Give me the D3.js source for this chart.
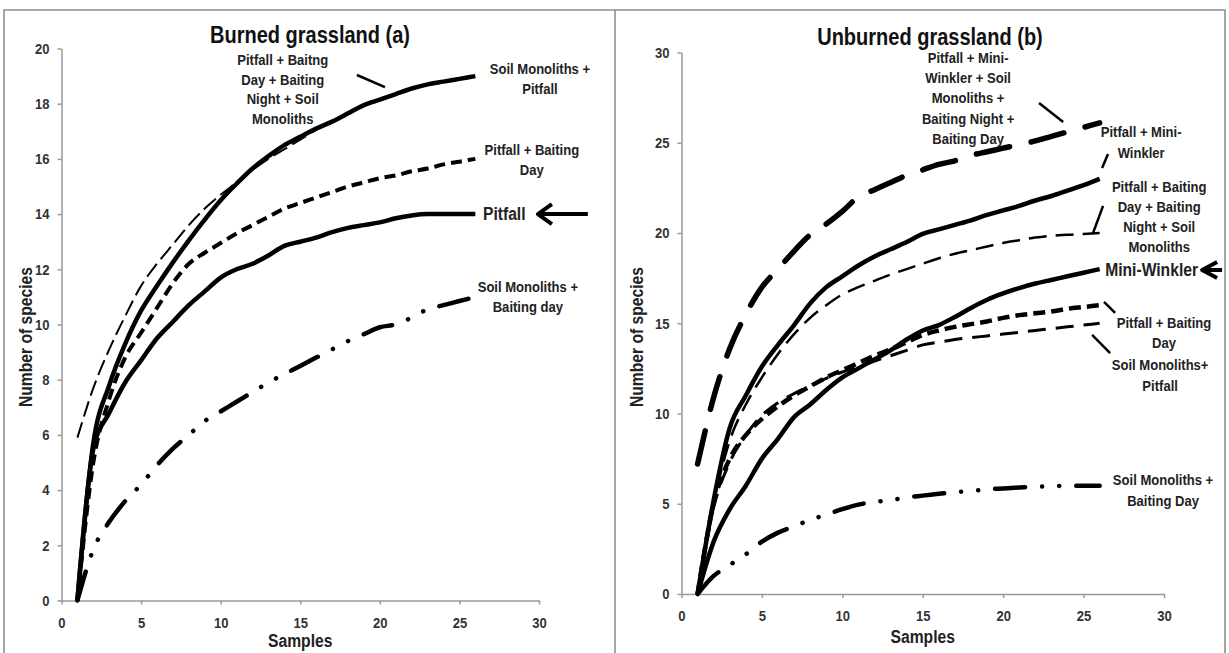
<!DOCTYPE html>
<html>
<head>
<meta charset="utf-8">
<script src="https://cdn.jsdelivr.net/npm/d3@7"></script>
<style>
body { margin: 0; background: #fff; }
text { font-family: "Liberation Sans", Arial, sans-serif; font-weight: bold; }
</style>
</head>
<body>
<svg id="chart" width="1229" height="653"></svg>
<script>

var samples = [1, 2, 3, 4, 5, 6, 7, 8, 9, 10, 11, 12, 13, 14, 15, 16, 17, 18, 19, 20, 21, 22, 23, 24, 25, 26]

var xTicks = [0, 5, 10, 15, 20, 25, 30]
var yTicksA = [0, 2, 4, 6, 8, 10, 12, 14, 16, 18, 20]
var yTicksB = [0, 5, 10, 15, 20, 25, 30]

// burned grassland (a)
var aSoilPitfall = [0, 5.7, 7.8, 9.3, 10.5, 11.4, 12.25, 13.05, 13.8, 14.5, 15.1, 15.65, 16.1, 16.5, 16.8, 17.1, 17.35, 17.65, 17.95, 18.15, 18.35, 18.55, 18.7, 18.8, 18.9, 19]
var aAllFour = [5.9, 7.7, 9.1, 10.3, 11.4, 12.2, 12.9, 13.6, 14.2, 14.7, 15.15, 15.6, 16, 16.35, 16.7, 17.05, 17.35, 17.65, 17.95, 18.15, 18.35, 18.55, 18.7, 18.8, 18.9, 19]
var aPitfallDay = [0, 5, 7.3, 8.8, 9.7, 10.6, 11.5, 12.2, 12.6, 12.95, 13.3, 13.6, 13.9, 14.2, 14.4, 14.6, 14.8, 15, 15.15, 15.3, 15.4, 15.55, 15.65, 15.8, 15.9, 16]
var aPitfall = [0, 5.5, 6.8, 7.9, 8.7, 9.5, 10.1, 10.7, 11.2, 11.7, 12, 12.2, 12.5, 12.85, 13, 13.15, 13.35, 13.5, 13.6, 13.7, 13.85, 13.95, 14, 14, 14, 14]
var aSoilDay = [0, 1.85, 2.85, 3.6, 4.2, 4.9, 5.5, 6, 6.5, 6.85, 7.2, 7.55, 7.9, 8.2, 8.5, 8.8, 9.1, 9.4, 9.65, 9.9, 10, 10.25, 10.55, 10.7, 10.85, 11]

// unburned grassland (b)
var bAllFive = [7.2, 10.9, 13.6, 15.5, 17, 18, 19, 19.9, 20.5, 21.2, 22, 22.4, 22.8, 23.2, 23.5, 23.8, 24, 24.3, 24.5, 24.7, 24.9, 25.1, 25.35, 25.6, 25.85, 26.1]
var bPitfallWinkler = [0, 5.2, 9.2, 11, 12.6, 13.8, 14.9, 16.1, 17, 17.6, 18.2, 18.7, 19.1, 19.5, 19.95, 20.2, 20.45, 20.7, 21, 21.25, 21.5, 21.8, 22.05, 22.35, 22.65, 23]
var bAllFour = [0, 5, 8.5, 10.5, 12, 13.3, 14.4, 15.3, 16, 16.6, 17, 17.35, 17.7, 18, 18.3, 18.6, 18.85, 19.05, 19.25, 19.45, 19.6, 19.75, 19.85, 19.9, 19.95, 20]
var bWinkler = [0, 2.9, 4.7, 6, 7.5, 8.6, 9.8, 10.5, 11.3, 12, 12.5, 13, 13.5, 14.1, 14.6, 14.9, 15.35, 15.85, 16.3, 16.65, 16.95, 17.2, 17.4, 17.6, 17.8, 18]
var bPitfallDay = [0, 5, 7.5, 8.8, 9.7, 10.4, 11, 11.5, 12, 12.4, 12.8, 13.2, 13.55, 13.95, 14.35, 14.6, 14.8, 14.95, 15.1, 15.3, 15.45, 15.55, 15.65, 15.8, 15.9, 16]
var bSoilPitfall = [0, 4.8, 7.3, 8.8, 9.9, 10.6, 11.1, 11.55, 11.95, 12.3, 12.6, 12.9, 13.2, 13.5, 13.8, 13.95, 14.1, 14.2, 14.3, 14.4, 14.5, 14.6, 14.7, 14.8, 14.9, 15]
var bSoilDay = [0, 1, 1.6, 2.2, 2.9, 3.4, 3.75, 4.1, 4.4, 4.7, 4.95, 5.1, 5.2, 5.35, 5.45, 5.55, 5.65, 5.7, 5.8, 5.85, 5.9, 5.95, 5.97, 6, 6, 6]

var svg = d3.select('#chart')

var frame = svg.append("g")
                .attr("fill", "none")
                .attr("stroke", "#8f8f8f")
                .attr("stroke-width", 1.6)

frame.append("path").attr("d", "M4,660 V10 H1225 V660")
frame.append("path").attr("d", "M615,10 V660")

var solid = null
var dashDot = "30,17,0.1,17,0.1,17"
var narrow = 0.87

// no narrow font installed, so squeeze the text horizontally
function condense(sel) {
    sel.each(function() {
        var t = d3.select(this)
        if (t.attr("x") != null) t.attr("x", +t.attr("x") / narrow)
        t.selectAll("tspan").each(function() {
            var s = d3.select(this)
            if (s.attr("x") != null) s.attr("x", +s.attr("x") / narrow)
        })
        t.attr("transform", (t.attr("transform") || "") + " scale(" + narrow + ",1)")
    })
}

function panel(opt) {

    var x = d3.scaleLinear().domain([0, 30]).range(opt.xr)
    var y = d3.scaleLinear().domain(opt.yd).range(opt.yr)

    var g = svg.append("g")

    g.append("g")
        .attr("class", "axis")
        .attr("transform", "translate(0," + opt.yr[0] + ")")
        .call(d3.axisBottom(x).tickValues(xTicks).tickSize(4).tickSizeOuter(0).tickPadding(opt.xpad))

    g.append("g")
        .attr("class", "axis")
        .attr("transform", "translate(" + opt.xr[0] + ",0)")
        .call(d3.axisLeft(y).tickValues(opt.yticks).tickSize(4).tickSizeOuter(0).tickPadding(8))

    g.selectAll(".axis path, .axis line")
        .attr("stroke", "#999")
        .attr("stroke-width", 1.5)

    g.selectAll(".axis text")
        .attr("fill", "#333")
        .style("font-size", "15px")
        .style("font-family", null)

    var line = d3.line()
                .x(function(d, i) { return x(samples[i]) })
                .y(function(d) { return y(d) })
                .curve(d3.curveMonotoneX)

    g.selectAll(".curve")
        .data(opt.series)
        .enter()
        .append("path")
        .attr("class", "curve")
        .attr("d", function(d) { return line(d.values) })
        .attr("fill", "none")
        .attr("stroke", "#000")
        .attr("stroke-width", function(d) { return d.width })
        .attr("stroke-dasharray", function(d) { return d.dash })
        .attr("stroke-linecap", function(d) { return d.cap || "butt" })
        .attr("stroke-linejoin", "round")

    g.append("text")
        .attr("x", opt.title[1])
        .attr("y", opt.title[2])
        .attr("text-anchor", "middle")
        .attr("font-size", "23px")
        .attr("fill", "#111")
        .text(opt.title[0])

    g.append("text")
        .attr("x", (opt.xr[0] + opt.xr[1]) / 2)
        .attr("y", opt.samplesY)
        .attr("text-anchor", "middle")
        .attr("font-size", "18px")
        .attr("fill", "#222")
        .text("Samples")

    g.append("text")
        .attr("transform", "translate(" + opt.ylabelX + ",337) rotate(-90)")
        .attr("text-anchor", "middle")
        .attr("font-size", "18px")
        .attr("fill", "#222")
        .text("Number of species")

    var labels = g.selectAll(".label")
                    .data(opt.labels)
                    .enter()
                    .append("text")
                    .attr("class", "label")
                    .attr("x", function(d) { return x(d.x) })
                    .attr("y", function(d) { return y(d.y) })
                    .attr("text-anchor", function(d) { return d.anchor || "middle" })
                    .attr("font-size", function(d) { return d.size + "px" })
                    .attr("fill", "#222")

    labels.selectAll("tspan")
        .data(function(d) { return d.lines.map(function(t) { return { t: t, x: x(d.x), step: d.step } }) })
        .enter()
        .append("tspan")
        .attr("x", function(d) { return d.x })
        .attr("dy", function(d, i) { return i == 0 ? 0 : d.step })
        .text(function(d) { return d.t })

    condense(g.selectAll("text"))

    g.selectAll(".leader")
        .data(opt.leaders)
        .enter()
        .append("line")
        .attr("class", "leader")
        .attr("x1", function(d) { return x(d[0]) })
        .attr("y1", function(d) { return y(d[1]) })
        .attr("x2", function(d) { return x(d[2]) })
        .attr("y2", function(d) { return y(d[3]) })
        .attr("stroke", "#000")
        .attr("stroke-width", 2.5)

    var a = opt.arrow
    var tx = x(a.tip[0]), ty = y(a.tip[1])
    g.append("path")
        .attr("d", "M" + x(a.tail) + "," + ty + " H" + tx +
                   " M" + (tx + a.arm[0]) + "," + (ty - a.arm[1]) + " L" + tx + "," + ty +
                   " L" + (tx + a.arm[0]) + "," + (ty + a.arm[1]))
        .attr("fill", "none")
        .attr("stroke", "#000")
        .attr("stroke-width", 4)
        .attr("stroke-linejoin", "round")
}

panel({
    xr: [61.5, 539],
    yd: [0, 20],
    yr: [600.5, 48.5],
    yticks: yTicksA,
    xpad: 12.5,
    title: ["Burned grassland (a)", 310, 43],
    samplesY: 647,
    ylabelX: 32,
    series: [
        { values: aSoilDay, width: 4.5, dash: dashDot, cap: "round" },
        { values: aPitfall, width: 4.5, dash: solid },
        { values: aPitfallDay, width: 4, dash: "11,6" },
        { values: aSoilPitfall, width: 4.5, dash: solid },
        { values: aAllFour, width: 2, dash: "16,6" }
    ],
    labels: [
        { lines: ["Pitfall + Baitng", "Day + Baiting", "Night + Soil", "Monoliths"], x: 13.9, y: 19.4, size: 15, step: 19.7 },
        { lines: ["Soil Monoliths +", "Pitfall"], x: 30.06, y: 19.08, size: 15, step: 20.5 },
        { lines: ["Pitfall + Baiting", "Day"], x: 29.55, y: 16.14, size: 15, step: 20 },
        { lines: ["Pitfall"], x: 26.48, y: 13.79, size: 18, step: 0, anchor: "start" },
        { lines: ["Soil Monoliths +", "Baiting day"], x: 29.3, y: 11.18, size: 15, step: 20 }
    ],
    leaders: [[18.56, 19.04, 20.32, 18.6]],
    arrow: { tip: [29.93, 14], tail: 33.07, arm: [14, 10] }
})

panel({
    xr: [681.5, 1164],
    yd: [0, 30],
    yr: [594, 52.5],
    yticks: yTicksB,
    xpad: 12,
    title: ["Unburned grassland (b)", 930, 45],
    samplesY: 643,
    ylabelX: 643,
    series: [
        { values: bSoilDay, width: 4.5, dash: dashDot, cap: "round" },
        { values: bSoilPitfall, width: 3, dash: "18,10" },
        { values: bPitfallDay, width: 4.5, dash: "12,6" },
        { values: bWinkler, width: 4.5, dash: solid },
        { values: bAllFour, width: 2.5, dash: "18,9" },
        { values: bPitfallWinkler, width: 4.5, dash: solid },
        { values: bAllFive, width: 5.5, dash: "34,22", cap: "round" }
    ],
    labels: [
        { lines: ["Pitfall + Mini-", "Winkler + Soil", "Monoliths +", "Baiting Night +", "Baiting Day"], x: 17.82, y: 29.42, size: 15, step: 20.2 },
        { lines: ["Pitfall + Mini-", "Winkler"], x: 28.58, y: 25.32, size: 15, step: 21 },
        { lines: ["Pitfall + Baiting", "Day + Baiting", "Night + Soil", "Monoliths"], x: 29.7, y: 22.27, size: 15, step: 20 },
        { lines: ["Mini-Winkler"], x: 26.34, y: 17.62, size: 18, step: 0, anchor: "start" },
        { lines: ["Pitfall + Baiting", "Day"], x: 30, y: 14.74, size: 15, step: 20 },
        { lines: ["Soil Monoliths+", "Pitfall"], x: 29.76, y: 12.41, size: 15, step: 21 },
        { lines: ["Soil Monoliths +", "Baiting Day"], x: 29.94, y: 6.04, size: 15, step: 21 }
    ],
    leaders: [
        [22.23, 27.2, 23.73, 26.15],
        [26.52, 24.38, 26.15, 23.6],
        [26.21, 21.5, 25.59, 20.0],
        [26.27, 16.18, 26.96, 15.57],
        [25.53, 14.35, 26.65, 13.35]
    ],
    arrow: { tip: [32.37, 17.95], tail: 33.61, arm: [15, 8] }
})

</script>
</body>
</html>
